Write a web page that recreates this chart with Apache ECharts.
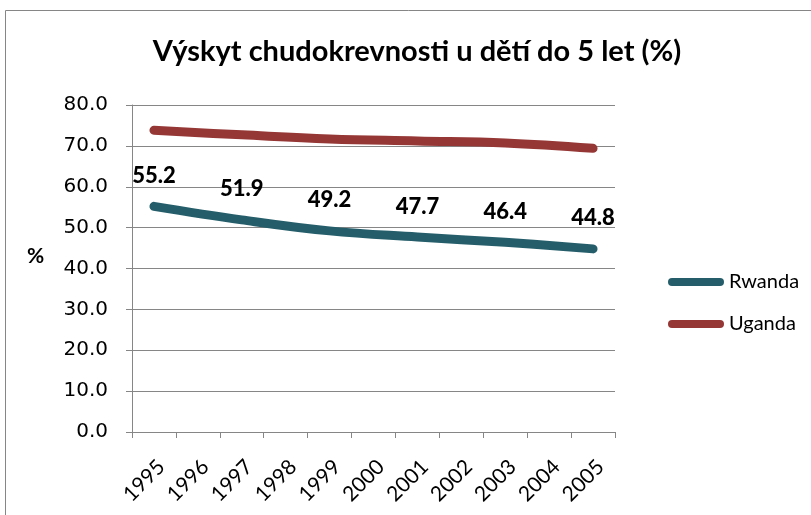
<!DOCTYPE html>
<html>
<head>
<meta charset="utf-8">
<script src="https://cdn.jsdelivr.net/npm/echarts@6/dist/echarts.min.js"></script>
<style>
html,body{margin:0;padding:0;background:#fff;}
#chart{width:811px;height:515px;}
</style>
</head>
<body>
<div id="chart"></div>
<script>
const titleText = 'Výskyt chudokrevnosti u dětí do 5 let (%)';
const yAxisTitle = '%';
const years = ['1995','1996','1997','1998','1999','2000','2001','2002','2003','2004','2005'];
const rwanda = [55.2, null, 51.9, null, 49.2, null, 47.7, null, 46.4, null, 44.8];
const uganda = [73.8, null, 72.7, null, 71.7, null, 71.2, null, 70.7, null, 69.4];
const seriesNames = ['Rwanda', 'Uganda'];
const seriesColors = ['#255E6A', '#953735'];
const yTicks = { min: 0, max: 80, interval: 10 };

const chart = echarts.init(document.getElementById('chart'));
const legendIcon = 'path://M4,0 H52 A4,4 0 0 1 52,8 H4 A4,4 0 0 1 4,0 Z';
chart.setOption({
  backgroundColor: '#ffffff',
  animation: false,
  graphic: [{
    type: 'rect',
    shape: { x: 5.5, y: 10.5, width: 1000, height: 1000 },
    style: { fill: 'none', stroke: '#868686', lineWidth: 1 },
    silent: true
  }],
  title: [{
    text: titleText,
    left: 417,
    textAlign: 'center',
    top: 37,
    padding: 0,
    textStyle: { fontFamily: 'Lato', fontWeight: 'bold', fontSize: 29, color: '#000' }
  }, {
    text: yAxisTitle,
    left: 27,
    top: 246,
    padding: 0,
    textStyle: { fontFamily: 'Lato', fontWeight: 'bold', fontSize: 21, color: '#000' }
  }],
  legend: {
    orient: 'vertical',
    left: 663,
    top: 267,
    itemWidth: 56,
    itemHeight: 8,
    itemGap: 22,
    icon: legendIcon,
    textStyle: { fontFamily: 'Lato', fontSize: 20, color: '#000', lineHeight: 20 },
    data: seriesNames.map((n, i) => ({ name: n, itemStyle: { color: seriesColors[i], opacity: 1 } }))
  },
  grid: { left: 132, right: 196, top: 105, bottom: 83, containLabel: false },
  xAxis: {
    type: 'category',
    data: years,
    boundaryGap: true,
    axisLine: { lineStyle: { color: '#868686', width: 1 } },
    axisTick: { show: true, length: 6, lineStyle: { color: '#868686' } },
    axisLabel: { rotate: 45, margin: 24, verticalAlign: 'top', interval: 0, fontFamily: 'Lato', fontSize: 21, color: '#000' }
  },
  yAxis: {
    type: 'value',
    min: yTicks.min,
    max: yTicks.max,
    interval: yTicks.interval,
    axisLine: { show: true, lineStyle: { color: '#868686', width: 1 } },
    axisTick: { show: true, inside: false, length: 6, lineStyle: { color: '#868686' } },
    splitLine: { show: true, lineStyle: { color: '#868686', width: 1 } },
    axisLabel: {
      margin: 24,
      fontFamily: 'DejaVu Sans',
      fontSize: 20,
      color: '#000',
      formatter: v => v.toFixed(1)
    }
  },
  series: [{
    name: seriesNames[0],
    type: 'line',
    data: rwanda,
    connectNulls: true,
    smooth: 0.4,
    showSymbol: true,
    symbol: 'circle',
    symbolSize: 1,
    itemStyle: { color: seriesColors[0], opacity: 0 },
    color: seriesColors[0],
    lineStyle: { width: 9, color: seriesColors[0], cap: 'round', join: 'round' },
    label: {
      show: true,
      position: 'top',
      distance: 19,
      fontFamily: 'Lato',
      fontWeight: 900,
      fontSize: 22,
      color: '#000',
      opacity: 1,
      formatter: p => p.value == null ? '' : p.value.toFixed(1)
    },
    z: 3
  }, {
    name: seriesNames[1],
    type: 'line',
    data: uganda,
    connectNulls: true,
    smooth: 0.4,
    showSymbol: false,
    symbol: 'none',
    color: seriesColors[1],
    lineStyle: { width: 9, color: seriesColors[1], cap: 'round', join: 'round' },
    label: { show: false },
    z: 3
  }]
});
</script>
</body>
</html>
